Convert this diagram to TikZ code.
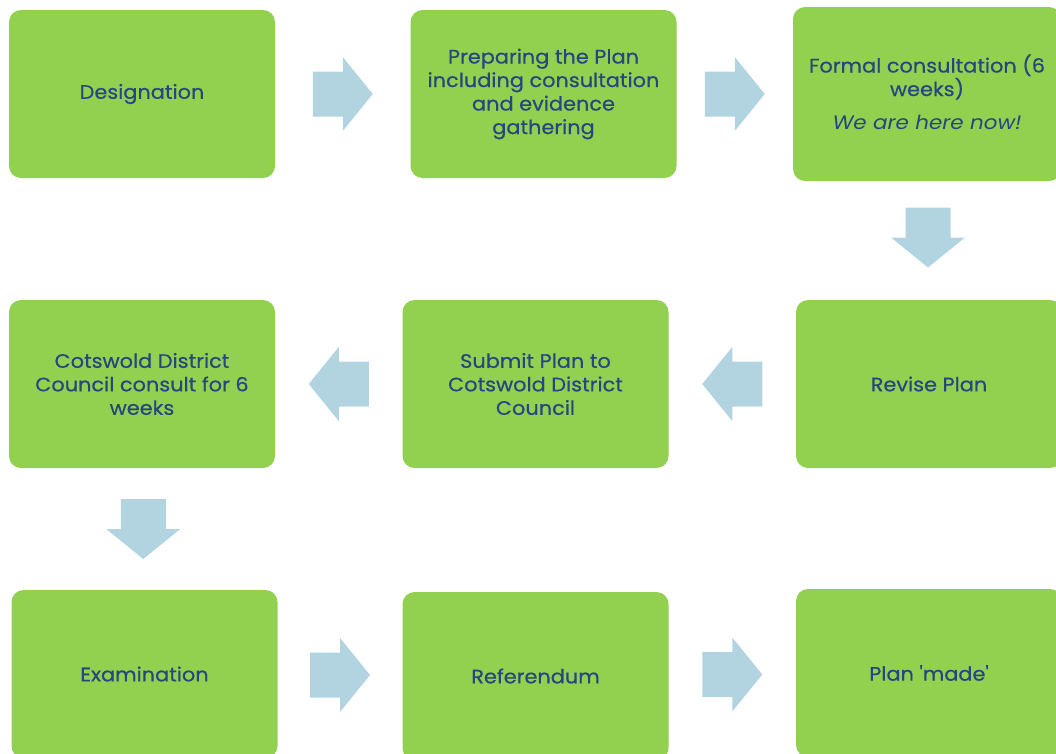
\documentclass[tikz,border=0pt]{standalone}
\usepackage{fontspec}
\setmainfont{Poppins}[Ligatures=TeXOff, FakeStretch=1.07, FakeBold=0.5]
\newfontfamily\noteface{Poppins Italic}[Ligatures=TeXOff, FakeStretch=1.1]
\usetikzlibrary{calc}
\definecolor{boxgreen}{HTML}{92D050}
\definecolor{labelblue}{HTML}{24477F}
\definecolor{arrowblue}{HTML}{B1D4E0}
\tikzset{
  stage/.style={fill=boxgreen, rounded corners=12pt, minimum width=266pt,
    minimum height=168pt, text=labelblue, align=center, inner sep=0pt,
    font=\fontsize{19.5}{23.5}\selectfont},
}
% block arrow centred on a coordinate, turned by the given angle
\newcommand\flowarrow[2]{%
  \fill[arrowblue, shift={#1}, rotate=#2]
    (-30,-22.5) -- (0,-22.5) -- (0,-37) -- (30,0) -- (0,37) -- (0,22.5)
    -- (-30,22.5) -- cycle;}
\begin{document}
\begin{tikzpicture}[x=1pt, y=-1pt]
  \useasboundingbox (0,0) rectangle (1056,753);
  \clip (0,0) rectangle (1056,753);
  % first row
  \node[stage] (des) at (142,94) {Designation};
  \node[stage] (prep) at (543.5,94) {Preparing the Plan\\including consultation\\and evidence\\gathering};
  \node[stage, minimum width=268pt, minimum height=174pt] (formal) at (927,94) {};
  \node[text=labelblue, align=center, inner sep=0pt,
    font=\fontsize{19.5}{23.5}\selectfont] (formaltext) at (927,92)
    {Formal consultation (6\\weeks)\\[10pt]{\noteface We are here now!}};
  % second row
  \node[stage] (cdc) at (142,384) {Cotswold District\\Council consult for 6\\weeks};
  \node[stage] (submit) at (535.5,384) {Submit Plan to\\Cotswold District\\Council};
  \node[stage] (revise) at (929,384) {Revise Plan};
  % third row
  \node[stage] (exam) at (144.5,674) {Examination};
  \node[stage] (ref) at (535.5,676) {Referendum};
  \node[stage] (made) at (929,673) {Plan 'made'};
  % arrow positions between stages
  \coordinate (a1) at ($(des.east)!0.5!(prep.west)$);
  \coordinate (a2) at ($(prep.east)!0.5!(formal.west)$);
  \coordinate (a3) at ($(formal.south)!0.5!(revise.north)+(0,-3)$);
  \coordinate (a4) at ($(revise.west)!0.5!(submit.east)$);
  \coordinate (a5) at ($(submit.west)!0.5!(cdc.east)$);
  \coordinate (a6) at ($(cdc.south)!0.5!(exam.north)$);
  \coordinate (a7) at ($(exam.east)!0.5!(ref.west)$);
  \coordinate (a8) at ($(ref.east)!0.5!(made.west)$);
  \flowarrow{(a1)}{0}
  \flowarrow{(a2)}{0}
  \flowarrow{(a3)}{-90}
  \flowarrow{(a4)}{180}
  \flowarrow{(a5)}{180}
  \flowarrow{(a6)}{-90}
  \flowarrow{(a7)}{0}
  \flowarrow{(a8)}{0}
\end{tikzpicture}
\end{document}
